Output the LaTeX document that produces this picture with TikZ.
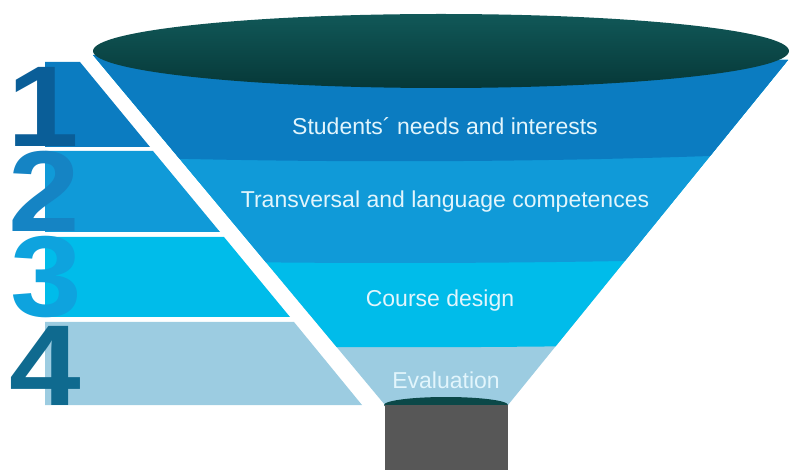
\documentclass[tikz,border=0pt]{standalone}
\usepackage{fontspec}
\setmainfont{Liberation Sans}
\definecolor{bandA}{HTML}{0B7CC1}
\definecolor{bandB}{HTML}{109AD8}
\definecolor{bandC}{HTML}{00BCEA}
\definecolor{bandD}{HTML}{9CCCE1}
\definecolor{numA}{HTML}{0A5E98}
\definecolor{numB}{HTML}{1584C4}
\definecolor{numC}{HTML}{0EA3DE}
\definecolor{numD}{HTML}{0F6A8F}
\definecolor{rimTop}{HTML}{115858}
\definecolor{rimBot}{HTML}{063838}
\definecolor{spoutcol}{HTML}{575757}
\definecolor{capcol}{HTML}{0B4848}
\definecolor{labeltxt}{HTML}{E2F5FC}
\tikzset{
  lbl/.style={text=labeltxt, inner sep=0pt, font=\fontsize{23}{23}\selectfont},
  num/.style={anchor=base, inner sep=0pt, xscale=1.12, font=\fontsize{115}{115}\selectfont\bfseries},
}
\begin{document}
\begin{tikzpicture}[x=1pt,y=-1pt]
\useasboundingbox (0,0) rectangle (790,470);
% left bands
\fill[bandA] (45,62) -- (80,62) -- (150,147) -- (45,147) -- cycle;
\fill[bandB] (45,151) -- (153,151) -- (220,232) -- (45,232) -- cycle;
\fill[bandC] (45,237) -- (224,237) -- (290,317) -- (45,317) -- cycle;
\fill[bandD] (45,322) -- (294,322) -- (362,405) -- (45,405) -- cycle;
% numbers
\node[num, text=numA] (n1) at (43,147) {1};
\node[num, text=numB] (n2) at (44,232) {2};
\node[num, text=numC] (n3) at (46,317) {3};
\node[num, text=numD] (n4) at (45,405) {4};
% funnel body
\begin{scope}
\clip (93,55) -- (788,60) -- (508,405) -- (385,405) -- cycle;
\fill[bandD] (0,0) rectangle (790,470);
\fill[bandC] (0,0) -- (0,342) .. controls (263,349) and (527,349) .. (790,342) -- (790,0) -- cycle;
\fill[bandB] (0,0) -- (0,257) .. controls (263,265) and (527,265) .. (790,257) -- (790,0) -- cycle;
\fill[bandA] (0,0) -- (0,153) .. controls (263,164) and (527,164) .. (790,153) -- (790,0) -- cycle;
\end{scope}
% rim
\shade[top color=rimTop, bottom color=rimBot] (441,51) ellipse [x radius=348, y radius=37];
% spout
\fill[capcol] (446,405) ellipse [x radius=62, y radius=8];
\fill[spoutcol] (385,405) rectangle (508,470);
% labels
\node[lbl] (l1) at (445,126) {Students´ needs and interests};
\node[lbl] (l2) at (445,202) {Transversal and language competences};
\node[lbl] (l3) at (440,301) {Course design};
\node[lbl] (l4) at (446,380) {Evaluation};
\end{tikzpicture}
\end{document}
